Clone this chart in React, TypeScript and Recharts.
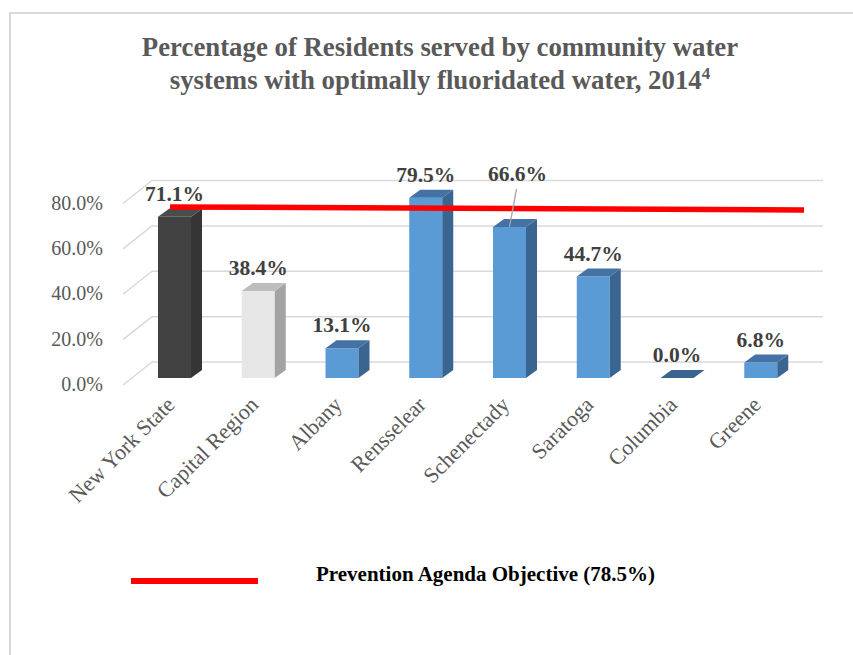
import React from 'react';
import { BarChart, Bar, XAxis, YAxis, CartesianGrid, ReferenceLine, LabelList } from 'recharts';

const categories = ['New York State', 'Capital Region', 'Albany', 'Rensselear', 'Schenectady', 'Saratoga', 'Columbia', 'Greene'];
const fluoridatedPct = [71.1, 38.4, 13.1, 79.5, 66.6, 44.7, 0.0, 6.8];
const yTicks = [0, 20, 40, 60, 80];
const OBJECTIVE = 78.5;
const OBJECTIVE_LABEL = 'Prevention Agenda Objective (78.5%)';

const data = categories.map((name, i) => ({ name, value: fluoridatedPct[i] }));

// 3d look: depth of the box and of the back wall
const DX = 11;
const DY = 8;
const FONT = '"Liberation Serif", "Times New Roman", serif';

const BAR_COLORS = [
    { front: '#414141', side: '#353535', top: '#4b4b4b' },
    { front: '#e7e7e7', side: '#a3a3a3', top: '#bdbdbd' },
];
const BLUE = { front: '#5b9bd5', side: '#3a6590', top: '#4472a6' };

const Box3D = (props: any) => {
    const { x, y, width, height, index } = props;
    const c = BAR_COLORS[index] || BLUE;
    const r = x + width;
    const b = y + height;
    return (
        <g>
            {height > 0 && <rect x={x} y={y} width={width} height={height} fill={c.front} />}
            {height > 0 && <polygon points={`${r},${y} ${r + DX},${y - DY} ${r + DX},${b - DY} ${r},${b}`} fill={c.side} />}
            <polygon points={`${x},${y} ${x + DX},${y - DY} ${r + DX},${y - DY} ${r},${y}`} fill={height > 0 ? c.top : c.side} />
        </g>
    );
};

const ValueLabel = (props: any) => {
    const { x, y, width, value, index } = props;
    const cx = x + width / 2;
    const text = `${Number(value).toFixed(1)}%`;
    if (index === 4) {
        // Schenectady label is pulled up with a leader line
        return (
            <g>
                <line x1={cx + 7} y1={y - 38} x2={cx} y2={y} stroke="#a6a6a6" strokeWidth={1.3} />
                <text x={cx + 8} y={y - 46} textAnchor="middle" fontFamily={FONT} fontWeight="bold" fontSize={21.5} fill="#404040">{text}</text>
            </g>
        );
    }
    return (
        <text x={cx} y={y - 16} textAnchor="middle" fontFamily={FONT} fontWeight="bold" fontSize={21.5} fill="#404040">{text}</text>
    );
};

const YTick = (props: any) => {
    const { y, payload } = props;
    return (
        <text x={103} y={y + 13} textAnchor="end" fontFamily={FONT} fontSize={20} fill="#595959">
            {`${payload.value.toFixed(1)}%`}
        </text>
    );
};

const XTick = (props: any) => {
    const { x, y, payload } = props;
    const ax = x + 1;
    const ay = y + 28;
    return (
        <text x={ax} y={ay} textAnchor="end" transform={`rotate(-45, ${ax}, ${ay})`} fontFamily={FONT} fontSize={22} fill="#595959">
            {payload.value}
        </text>
    );
};

const WallLine = (props: any) => {
    const { x1, x2, y1 } = props;
    return (
        <g>
            <line x1={x1 - 10} y1={y1 + 7} x2={x1 + 19} y2={y1 - 16} stroke="#d9d9d9" strokeWidth={1.5} />
            <line x1={x1 + 19} y1={y1 - 16} x2={x2 + 20} y2={y1 - 16} stroke="#d9d9d9" strokeWidth={1.5} />
        </g>
    );
};

const ObjectiveLine = (props: any) => {
    const { x1, x2, y1 } = props;
    return <line x1={x1 + 37} y1={y1 + 7} x2={x2 + 1} y2={y1 + 10} stroke="#ff0000" strokeWidth={5.5} />;
};

export default function App() {
    return (
        <div style={{ position: 'absolute', left: 0, top: 0, width: 853, height: 655, overflow: 'hidden', background: '#fff', fontFamily: FONT }}>
            <div style={{ position: 'absolute', left: 9, top: 12, width: 900, height: 700, border: '2px solid #d9d9d9' }} />
            <div style={{ position: 'absolute', left: 10, top: 31, width: 860, textAlign: 'center', fontSize: 26.8, lineHeight: '33px', fontWeight: 'bold', color: '#595959' }}>
                Percentage of Residents served by community water<br />
                systems with optimally fluoridated water, 2014<sup style={{ fontSize: 17, lineHeight: 0 }}>4</sup>
            </div>
            <div style={{ position: 'absolute', left: 0, top: 0 }}>
                <BarChart width={853} height={655} data={data} margin={{ top: 196.5, right: 50, bottom: 177, left: 0 }}>
                    <CartesianGrid vertical={false} horizontal={WallLine} />
                    <XAxis dataKey="name" axisLine={false} tickLine={false} tickSize={0} tickMargin={0} height={100} interval={0} tick={<XTick />} />
                    <YAxis domain={[0, 80]} ticks={yTicks} axisLine={false} tickLine={false} width={133} tick={<YTick />} />
                    <Bar dataKey="value" barSize={33} shape={<Box3D />} isAnimationActive={false}>
                        <LabelList dataKey="value" content={<ValueLabel />} />
                    </Bar>
                    <ReferenceLine y={OBJECTIVE} ifOverflow="visible" shape={ObjectiveLine} />
                </BarChart>
            </div>
            <div style={{ position: 'absolute', left: 131, top: 578, width: 127, height: 6, background: '#ff0000' }} />
            <div style={{ position: 'absolute', left: 316, top: 564, fontSize: 21, lineHeight: '21px', fontWeight: 'bold', color: '#000', whiteSpace: 'nowrap' }}>
                {OBJECTIVE_LABEL}
            </div>
        </div>
    );
}
